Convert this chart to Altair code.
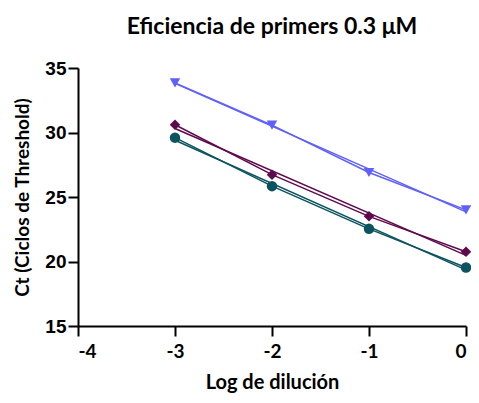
import altair as alt
import pandas as pd

log_dil = [-3, -2, -1, 0]
s_blue = [33.85, 30.57, 26.9, 24.0]
s_purple = [30.6, 26.73, 23.5, 20.75]
s_teal = [29.6, 25.84, 22.53, 19.53]
series_names = ["A", "B", "C"]
colors = ["#5f5ffa", "#5e0b4d", "#0c5360"]
shapes = ["triangle-down", "diamond", "circle"]

rows = []
for name, vals in zip(series_names, [s_blue, s_purple, s_teal]):
    for x, y in zip(log_dil, vals):
        rows.append({"serie": name, "x": x, "y": y})
df = pd.DataFrame(rows)

xs = alt.X("x:Q", scale=alt.Scale(domain=[-4, 0], nice=False, zero=False),
           axis=alt.Axis(values=[-4, -3, -2, -1, 0], title="Log de dilución", labelExpr="'' + datum.value",
                         titleFont="Lato", titleFontSize=20, titleFontWeight="bold", titlePadding=11,
                         labelFont="Lato", labelFontSize=19, labelFontWeight="bold", labelPadding=6))
ys = alt.Y("y:Q", scale=alt.Scale(domain=[15, 35], nice=False, zero=False),
           axis=alt.Axis(values=[15, 20, 25, 30, 35], title="Ct (Ciclos de Threshold)",
                         titleFont="Lato", titleFontSize=19, titleFontWeight="bold", titlePadding=12,
                         labelFont="Liberation Sans", labelFontSize=19, labelFontWeight="bold", labelPadding=2))
col = alt.Color("serie:N", scale=alt.Scale(domain=series_names, range=colors), legend=None)
shp = alt.Shape("serie:N", scale=alt.Scale(domain=series_names, range=shapes), legend=None)

base = alt.Chart(df)
lines = base.mark_line(strokeWidth=1.5).encode(x=xs, y=ys, color=col, detail="serie:N")
reg = base.transform_regression("x", "y", groupby=["serie"], extent=[-3, 0]).mark_line(strokeWidth=1.5).encode(
    x="x:Q", y="y:Q", color=col)
pts = base.mark_point(filled=True, size=110, opacity=1).encode(x=xs, y=ys, color=col, shape=shp)

chart = alt.layer(lines, reg, pts).properties(
    width=388, height=258,
    title=alt.TitleParams("Eficiencia de primers 0.3 μM", font="Lato", fontSize=23, fontWeight="bold",
                          color="black", offset=20),
    autosize=alt.AutoSizeParams(type="none"),
    padding={"left": 70, "top": 60, "right": 5, "bottom": 69},
).configure_view(stroke=None).configure_axis(
    grid=False, domainColor="black", domainWidth=2, tickColor="black", tickWidth=2, tickSize=10,
    labelColor="black", titleColor="black")

chart.save("out.html", embed_options={"renderer": "svg", "actions": False})
